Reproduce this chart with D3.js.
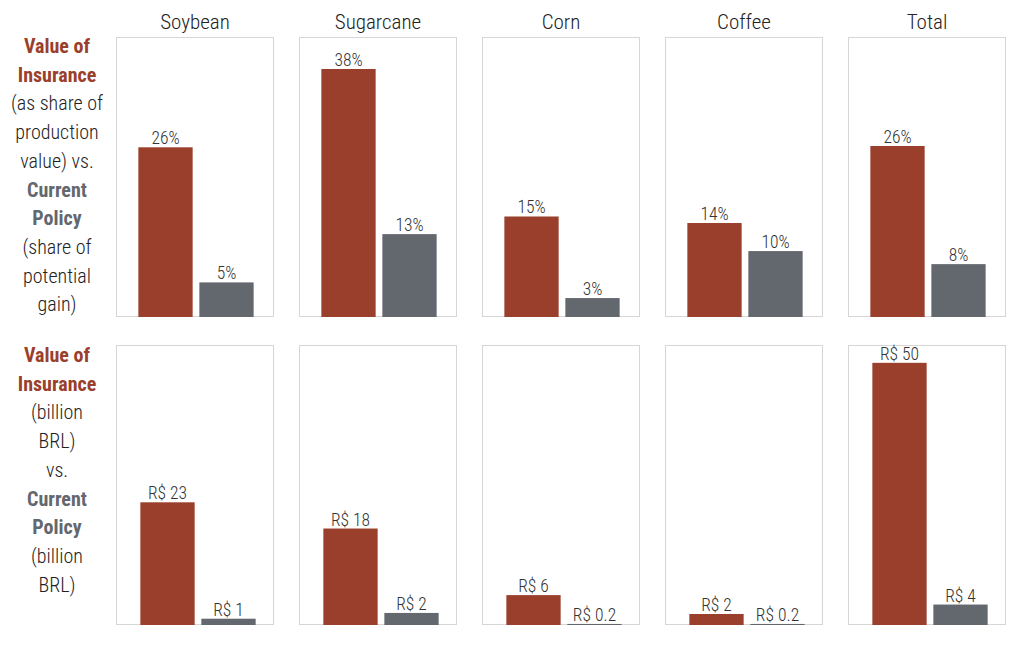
<!DOCTYPE html>
<html>
<head>
<meta charset="utf-8">
<script src="https://cdn.jsdelivr.net/npm/d3@7"></script>
<style>
  body { margin: 0; background: #fff; }
  svg text { font-family: "Roboto Condensed", "Open Sans", sans-serif; font-weight: 300; }
</style>
</head>
<body>
<div id="chart"></div>
<script>
// chart data
var crops = ["Soybean", "Sugarcane", "Corn", "Coffee", "Total"];
var series = ["Value of Insurance", "Current Policy"];

// top row: % (insurance as share of production value, policy as share of potential gain)
var shareInsurance = [26.0, 38.0, 15.4, 14.4, 26.2];
var sharePolicy = [5.3, 12.7, 2.9, 10.1, 8.1];

// bottom row: billion BRL
var brlInsurance = [23.4, 18.4, 5.7, 2.1, 50.0];
var brlPolicy = [1.2, 2.3, 0.2, 0.2, 3.9];

var rowLabels = [
  [["Value of", "ins"], ["Insurance", "ins"], ["(as share of", ""], ["production", ""], ["value) vs.", ""],
   ["Current", "pol"], ["Policy", "pol"], ["(share of", ""], ["potential", ""], ["gain)", ""]],
  [["Value of", "ins"], ["Insurance", "ins"], ["(billion", ""], ["BRL)", ""], ["vs.", ""],
   ["Current", "pol"], ["Policy", "pol"], ["(billion", ""], ["BRL)", ""]]
];

var svgWidth = 1024;
var svgHeight = 645;

var colors = { ins: "#9a3f2c", pol: "#63676e" };

var svg = d3.select("#chart")
  .append("svg")
  .attr("width", svgWidth)
  .attr("height", svgHeight);

// panel layout: 5 panels, 158px wide, 25px apart
var panelX = d3.scaleBand()
  .domain(crops)
  .range([116, 1006])
  .paddingInner(25 / 183)
  .paddingOuter(0);
var panelW = panelX.bandwidth();

var rows = [
  { top: 37, bottom: 317, max: 42.9, shift: 1,
    values: [shareInsurance, sharePolicy],
    fmt: function(v) { return Math.round(v) + "%"; } },
  { top: 345, bottom: 625, max: 53.4, shift: 3,
    values: [brlInsurance, brlPolicy],
    fmt: function(v) { return "R$ " + (v < 1 ? d3.format(".1f")(v) : Math.round(v)); } }
];

// crop titles
svg.selectAll(".crop-title")
  .data(crops)
  .enter()
  .append("text")
  .attr("class", "crop-title")
  .attr("x", d => panelX(d) + panelW / 2)
  .attr("y", 29)
  .attr("text-anchor", "middle")
  .style("font-size", "21px")
  .style("fill", "#222")
  .text(d => d);

rows.forEach(function(row, ri) {
  var y = d3.scaleLinear()
    .domain([0, row.max])
    .range([row.bottom, row.top]);

  var x = d3.scaleBand()
    .domain(series)
    .range([row.shift, panelW + row.shift])
    .paddingInner(0.11)
    .paddingOuter(0.35);

  var data = [];
  crops.forEach(function(c, i) {
    series.forEach(function(s, si) {
      data.push({ crop: c, series: s, key: si === 0 ? "ins" : "pol", value: row.values[si][i] });
    });
  });

  var g = svg.append("g");

  // panel frames
  g.selectAll(".frame")
    .data(crops)
    .enter()
    .append("rect")
    .attr("x", d => panelX(d) + 0.5)
    .attr("y", row.top + 0.5)
    .attr("width", panelW - 1)
    .attr("height", row.bottom - row.top - 1)
    .attr("fill", "none")
    .attr("stroke", "#d6d6d6");

  // bars
  g.selectAll(".bar")
    .data(data)
    .enter()
    .append("rect")
    .attr("x", d => panelX(d.crop) + x(d.series))
    .attr("y", d => y(d.value))
    .attr("width", x.bandwidth())
    .attr("height", d => Math.max(1, row.bottom - y(d.value)))
    .attr("fill", d => colors[d.key]);

  // value labels
  g.selectAll(".val")
    .data(data)
    .enter()
    .append("text")
    .attr("x", d => panelX(d.crop) + x(d.series) + x.bandwidth() / 2)
    .attr("y", d => Math.min(y(d.value), row.bottom - 1) - 3)
    .attr("text-anchor", "middle")
    .style("font-size", "17.5px")
    .style("fill", "#333")
    .text(d => row.fmt(d.value));

  // row label on the left
  var labels = rowLabels[ri];
  var lineH = 28.7;
  var startY = ri === 0 ? 53 : 362;
  g.append("text")
    .attr("text-anchor", "middle")
    .selectAll("tspan")
    .data(labels)
    .enter()
    .append("tspan")
    .attr("x", 57)
    .attr("y", (d, i) => startY + i * lineH)
    .style("font-size", "20px")
    .style("font-weight", d => d[1] ? "bold" : "300")
    .style("fill", d => d[1] ? colors[d[1]] : "#222")
    .text(d => d[0]);
});
</script>
</body>
</html>
